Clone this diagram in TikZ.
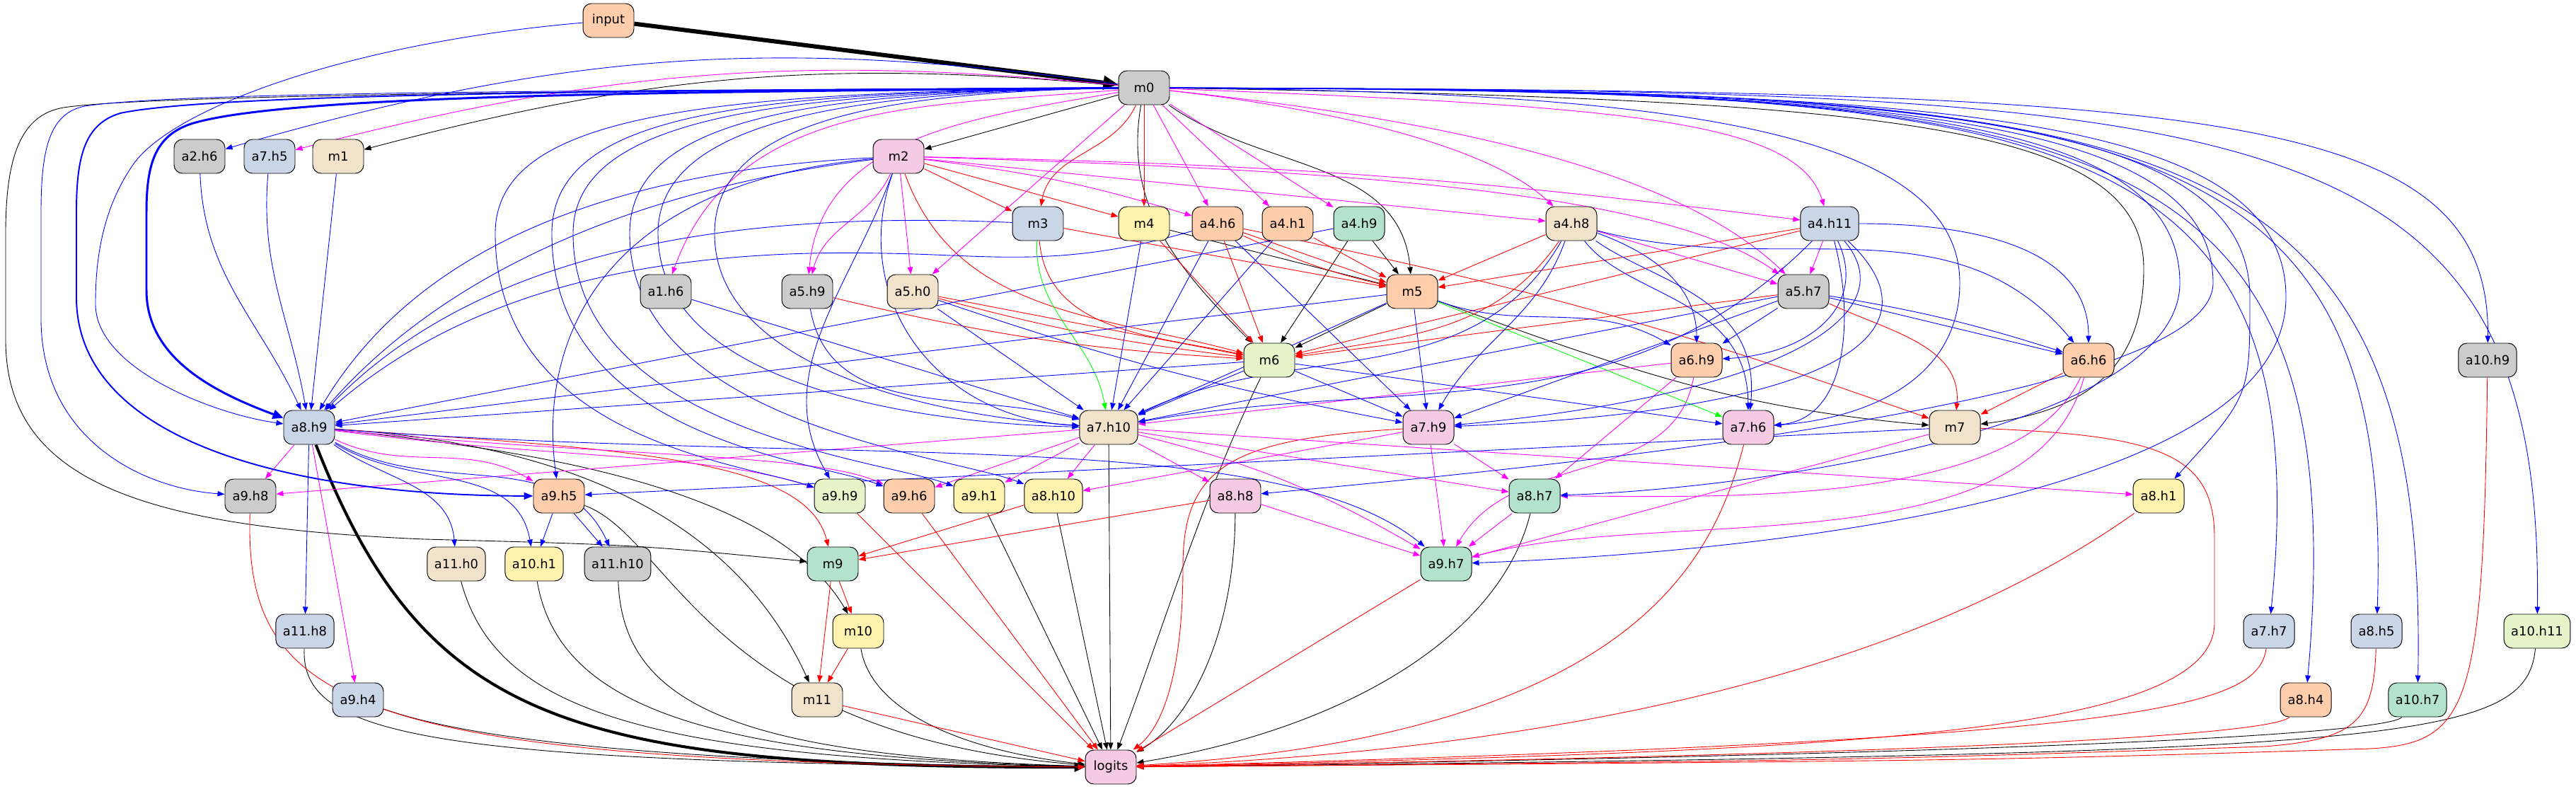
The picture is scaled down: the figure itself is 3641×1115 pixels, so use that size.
\documentclass[tikz,border=0pt]{standalone}
\usepackage{fontspec}
\newfontfamily\gvfont{DejaVu Sans}
\usetikzlibrary{arrows.meta,backgrounds}
\definecolor{pgray}{HTML}{CCCCCC}
\definecolor{pblue}{HTML}{CBD5E8}
\definecolor{pbeige}{HTML}{F1E2CC}
\definecolor{ppink}{HTML}{F4CAE4}
\definecolor{pyel}{HTML}{FFF2AE}
\definecolor{porange}{HTML}{FDCDAC}
\definecolor{pgreen}{HTML}{B3E2CD}
\definecolor{plime}{HTML}{E6F5C9}
\definecolor{eblue}{RGB}{0,0,255}
\definecolor{emag}{RGB}{255,0,255}
\definecolor{ered}{RGB}{255,0,0}
\definecolor{egreen}{RGB}{0,255,0}
\tikzset{
  box/.style={draw, rounded corners=0.24cm, minimum height=0.96cm, minimum width=1.44cm,
              inner xsep=0.2cm, inner ysep=0pt, line width=0.55pt,
              font={\gvfont\fontsize{10.2}{12}\selectfont}},
  ndgray/.style={box, fill=pgray},
  ndblue/.style={box, fill=pblue},
  ndbeige/.style={box, fill=pbeige},
  ndpink/.style={box, fill=ppink},
  ndyel/.style={box, fill=pyel},
  ndorange/.style={box, fill=porange},
  ndgreen/.style={box, fill=pgreen},
  ndlime/.style={box, fill=plime},
  wire/.style={-{Triangle[length=0.2cm,width=0.15cm]}, line width=0.5pt},
  wk/.style={wire, draw=black},
  wb/.style={wire, draw=eblue},
  wm/.style={wire, draw=emag},
  wr/.style={wire, draw=ered},
  wg/.style={wire, draw=egreen},
}
\begin{document}
\begin{tikzpicture}[x=0.02cm, y=-0.02cm]
\useasboundingbox (0,0) rectangle (3641,1115);

% rank 0-2
\node[ndorange] (input) at (860,29) {input};
\node[ndgray] (m0) at (1617,124) {m0};
\node[ndgray] (a2h6) at (282,221) {a2.h6};
\node[ndblue] (a7h5) at (381,221) {a7.h5};
\node[ndbeige] (m1) at (478,221) {m1};
\node[ndpink] (m2) at (1270,221) {m2};
% rank 3-5
\node[ndblue] (m3) at (1467,316) {m3};
\node[ndyel] (m4) at (1617,316) {m4};
\node[ndorange] (a4h6) at (1721,316) {a4.h6};
\node[ndorange] (a4h1) at (1820,316) {a4.h1};
\node[ndgreen] (a4h9) at (1921,316) {a4.h9};
\node[ndbeige] (a4h8) at (2221,316) {a4.h8};
\node[ndblue] (a4h11) at (2586,316) {a4.h11};
\node[ndgray] (a1h6) at (941,412) {a1.h6};
\node[ndgray] (a5h9) at (1141,412) {a5.h9};
\node[ndbeige] (a5h0) at (1290,412) {a5.h0};
\node[ndorange] (m5) at (1996,412) {m5};
\node[ndgray] (a5h7) at (2549,412) {a5.h7};
\node[ndlime] (m6) at (1794,509) {m6};
\node[ndorange] (a6h9) at (2398,509) {a6.h9};
\node[ndorange] (a6h6) at (2952,509) {a6.h6};
\node[ndgray] (a10h9) at (3516,509) {a10.h9};
% rank 6-7
\node[ndblue] (a8h9) at (437,604) {a8.h9};
\node[ndbeige] (a7h10) at (1567,604) {a7.h10};
\node[ndpink] (a7h9) at (2019,604) {a7.h9};
\node[ndpink] (a7h6) at (2471,604) {a7.h6};
\node[ndbeige] (m7) at (2763,604) {m7};
\node[ndgray] (a9h8) at (354,701) {a9.h8};
\node[ndorange] (a9h5) at (790,701) {a9.h5};
\node[ndlime] (a9h9) at (1187,701) {a9.h9};
\node[ndorange] (a9h6) at (1285,701) {a9.h6};
\node[ndyel] (a9h1) at (1384,701) {a9.h1};
\node[ndyel] (a8h10) at (1489,701) {a8.h10};
\node[ndpink] (a8h8) at (1746,701) {a8.h8};
\node[ndgreen] (a8h7) at (2169,701) {a8.h7};
\node[ndyel] (a8h1) at (3051,701) {a8.h1};
% rank 8-11
\node[ndbeige] (a11h0) at (645,797) {a11.h0};
\node[ndyel] (a10h1) at (755,797) {a10.h1};
\node[ndgray] (a11h10) at (873,797) {a11.h10};
\node[ndgreen] (m9) at (1177,797) {m9};
\node[ndgreen] (a9h7) at (2044,797) {a9.h7};
\node[ndblue] (a11h8) at (431,892) {a11.h8};
\node[ndyel] (m10) at (1213,892) {m10};
\node[ndblue] (a7h7) at (3207,892) {a7.h7};
\node[ndblue] (a8h5) at (3359,892) {a8.h5};
\node[ndlime] (a10h11) at (3586,892) {a10.h11};
\node[ndblue] (a9h4) at (506,989) {a9.h4};
\node[ndbeige] (m11) at (1155,989) {m11};
\node[ndorange] (a8h4) at (3259,989) {a8.h4};
\node[ndgreen] (a10h7) at (3417,989) {a10.h7};
\node[ndpink] (logits) at (1570,1084) {logits};

\begin{scope}[on background layer]
% ---- black ----
\draw[wk, line width=3.4pt, -{Triangle[length=0.42cm,width=0.38cm]}] (input) -- (m0);
\draw[wk] (m0) to[bend right=10] (m1);
\foreach \src/\dst in {m0/m2, m4/m5, a4h9/m5, a4h9/m6, m5/m6}
  \draw[wk] (\src) -- (\dst);
\draw[wk] (m0) to[out=-100,in=135] (m6);
\draw[wk] (m0) to[out=-35,in=95] (m5);
\draw[wk] (m5) to[out=-20,in=175] (m7);
\draw[wk] (m0) .. controls (2700,140) and (3030,180) .. (3030,380)
  .. controls (3030,520) and (2950,580) .. (m7);
\draw[wk] (m0) .. controls (800,128) and (200,135) .. (90,152)
  .. controls (30,162) and (8,220) .. (8,330) -- (8,480)
  .. controls (8,680) and (200,745) .. (600,762) .. controls (900,770) .. (m9);
\draw[wk] (a8h9) .. controls (800,640) and (1100,700) .. (m10);
\draw[wk] (a8h9) .. controls (850,630) and (1050,760) .. (m11);
\draw[wk, line width=2.3pt, -{Triangle[length=0.3cm,width=0.26cm]}]
  (a8h9) .. controls (600,1020) and (800,1085) .. (logits);
\draw[wk] (a11h8) .. controls (425,1040) and (600,1078) .. (logits);
\draw[wk] (a9h4) .. controls (650,1040) and (900,1078) .. (logits);
\draw[wk] (a11h0) .. controls (700,1000) and (900,1072) .. (logits);
\draw[wk] (a10h1) .. controls (790,1000) and (1000,1070) .. (logits);
\draw[wk] (a11h10) .. controls (880,1000) and (1050,1068) .. (logits);
\draw[wk] (a9h5) .. controls (950,760) and (1000,1040) .. (logits);
\draw[wk] (m10) .. controls (1230,1000) and (1350,1060) .. (logits);
\foreach \src in {a9h1, a8h10, a7h10}
  \draw[wk] (\src) -- (logits);
\draw[wk] (m6) .. controls (1700,700) and (1640,900) .. (logits);
\draw[wk] (a8h8) .. controls (1745,900) and (1680,1020) .. (logits);
\draw[wk] (a8h7) .. controls (2120,900) and (1900,1030) .. (logits);
\draw[wk] (a10h7) .. controls (3380,1030) and (3100,1062) .. (logits);
\draw[wk] (a10h11) .. controls (3570,1050) and (3400,1065) .. (logits);

% ---- red ----
\foreach \src/\dst in {m0/m4, m2/m3, m2/m4, m3/m5, m4/m6, a4h6/m5, a4h6/m6, a4h1/m5,
    a4h8/m5, a4h11/m5, a4h11/m6, a5h7/m6, a6h6/m7, a5h0/m6, a8h10/m9, a8h8/m9,
    m9/m10, m9/m11, m10/m11, m11/logits, a9h9/logits, a9h6/logits, a9h7/logits}
  \draw[wr] (\src) -- (\dst);
\draw[wr] (m0) to[out=-115,in=80] (m3);
\draw[wr] (m2) to[out=-70,in=165] (m6);
\draw[wr] (m3) to[out=-85,in=168] (m6);
\draw[wr] (a4h6) to[bend right=6] (m5);
\draw[wr] (a4h6) to[bend left=4] (m7);
\draw[wr] (a4h8) to[out=-125,in=10] (m6);
\draw[wr] (a5h7) to[out=-25,in=85] (m7);
\draw[wr] (a5h0) to[bend right=4] (m6);
\draw[wr] (a5h9) to[bend right=5] (m6);
\draw[wr] (a8h9) .. controls (900,635) and (1140,650) .. (m9);
\draw[wr] (a9h8) .. controls (345,1000) and (500,1078) .. (logits);
\draw[wr] (a7h9) .. controls (1740,620) and (1672,660) .. (1672,800)
  .. controls (1672,960) and (1640,1030) .. (logits);
\draw[wr] (a7h6) .. controls (2420,800) and (2300,1040) .. (logits);
\draw[wr] (m7) .. controls (3050,615) and (3130,640) .. (3130,760) -- (3130,880)
  .. controls (3130,1040) and (2600,1062) .. (logits);
\draw[wr] (a8h1) .. controls (2700,950) and (2200,1060) .. (logits);
\draw[wr] (a7h7) .. controls (3190,1000) and (3050,1045) .. (logits);
\draw[wr] (a8h4) .. controls (3220,1030) and (3000,1062) .. (logits);
\draw[wr] (a8h5) .. controls (3355,1020) and (3330,1045) .. (3200,1055)
  .. controls (2600,1075) .. (logits);
\draw[wr] (a10h9) .. controls (3510,1000) and (3490,1050) .. (3350,1058)
  .. controls (2800,1075) .. (logits);

% ---- magenta ----
\foreach \src/\dst in {m0/a4h6, m0/a4h1, m0/a4h9, m2/a4h8, m0/a5h0, m2/a5h0, a4h8/a5h7,
    a4h11/a5h7, a8h9/a9h8, a8h9/a9h4, a7h10/a9h8, a7h10/a9h6, a7h10/a9h1, a7h10/a8h10,
    a7h10/a8h8, a7h10/a8h7, a7h10/a8h1, a7h9/a8h10, a7h9/a8h7, a7h9/a9h7, a6h9/a7h10,
    a6h9/a8h7, m7/a9h7, a8h8/a9h7, a8h7/a9h7}
  \draw[wm] (\src) -- (\dst);
\draw[wm] (m0) to[bend right=10] (a7h5);
\draw[wm] (m0) to[out=185,in=70] (a1h6);
\draw[wm] (m0) to[out=190,in=85] (a5h9);
\draw[wm] (m2) to[out=-115,in=75] (a5h9);
\draw[wm] (m2) to[bend left=5] (a4h6);
\draw[wm] (m2) to[bend left=3] (a4h11);
\draw[wm] (m0) .. controls (1850,150) and (2100,200) .. (a4h8);
\draw[wm] (m0) .. controls (2300,150) and (2540,170) .. (a4h11);
\draw[wm] (m0) .. controls (1950,160) and (2350,220) .. (a5h7);
\draw[wm] (m2) .. controls (1900,240) and (2350,270) .. (a5h7);
\draw[wm] (a8h9) to[out=-25,in=150] (a9h5);
\draw[wm] (a8h9) .. controls (800,650) and (1000,640) .. (a9h9);
\draw[wm] (a8h9) .. controls (850,645) and (1150,640) .. (a9h6);
\draw[wm] (a7h10) to[bend left=8] (a9h7);
\draw[wm] (a6h9) to[out=-100,in=60] (a9h7);
\draw[wm] (a6h6) to[out=-115,in=0,looseness=0.7] (a8h7);
\draw[wm] (a6h6) to[out=-105,in=15,looseness=0.8] (a9h7);

% ---- green ----
\draw[wg] (m3) to[out=-93,in=100] (a7h10);
\draw[wg] (m5) -- (a7h6);

% ---- blue ----
\foreach \src/\dst in {m1/a8h9, a4h9/a8h9, m5/a8h9, m6/a8h9, a1h6/a7h10, a5h0/a7h10,
    m4/a7h10, a4h6/a7h10, a4h1/a7h10, m6/a7h10, m5/a7h10, a5h7/a7h10, a4h6/a7h9,
    m5/a7h9, m6/a7h9, a5h7/a7h9, m6/a7h6, a5h7/a6h9, a5h7/a6h6, a8h9/a11h8,
    a9h5/a10h1, a9h5/a11h10, m7/a9h5}
  \draw[wb] (\src) -- (\dst);
\draw[wb] (a5h0) to[bend right=4] (a7h9);
\draw[wb] (input) .. controls (500,60) and (250,150) .. (190,230)
  .. controls (140,300) and (135,380) .. (135,430)
  .. controls (135,520) and (300,585) .. (a8h9);
\draw[wb, line width=1.7pt, -{Triangle[length=0.3cm,width=0.26cm]}]
  (m0) .. controls (900,130) and (400,135) .. (270,175)
  .. controls (220,192) and (207,230) .. (207,300) -- (207,410)
  .. controls (207,500) and (290,550) .. (a8h9);
\draw[wb, line width=1.1pt, -{Triangle[length=0.26cm,width=0.2cm]}]
  (m0) .. controls (900,128) and (300,132) .. (170,160)
  .. controls (120,175) and (108,220) .. (108,300) -- (108,420)
  .. controls (108,620) and (400,700) .. (a9h5);
\draw[wb] (m0) .. controls (800,128) and (250,130) .. (120,150)
  .. controls (70,160) and (58,210) .. (58,300) -- (58,450)
  .. controls (58,620) and (200,690) .. (a9h8);
\draw[wb] (m0) to[bend right=12] (a2h6);
\draw[wb] (a2h6) to[out=-88,in=115] (a8h9);
\draw[wb] (a7h5) to[out=-95,in=100] (a8h9);
\draw[wb] (m2) .. controls (900,240) and (600,330) .. (a8h9);
\draw[wb] (m2) .. controls (950,260) and (650,360) .. (a8h9);
\draw[wb] (m3) .. controls (1100,300) and (700,330) .. (a8h9);
\draw[wb] (a4h6) .. controls (1500,380) and (1400,360) .. (1250,358)
  .. controls (900,350) and (650,420) .. (a8h9);
\draw[wb] (m2) .. controls (850,260) and (760,480) .. (a9h5);
\draw[wb] (m2) to[out=-110,in=120] (a9h9);
\draw[wb] (m2) .. controls (1200,420) and (1320,590) .. (a7h10);
\draw[wb] (a5h9) to[out=-80,in=165] (a7h10);
\draw[wb] (a4h8) to[out=-120,in=25] (a7h10);
\draw[wb] (a4h11) to[out=-135,in=10] (a7h10);
\draw[wb] (a4h8) to[out=-110,in=60] (a7h9);
\draw[wb] (a4h11) .. controls (2700,450) and (2500,560) .. (a7h9);
\draw[wb] (a4h11) .. controls (2750,470) and (2600,580) .. (a7h9);
\draw[wb] (a4h8) .. controls (2300,420) and (2470,420) .. (a7h6);
\draw[wb] (a4h8) .. controls (2340,400) and (2490,420) .. (a7h6);
\draw[wb] (a4h11) to[out=-75,in=5] (a7h6);
\draw[wb] (a4h8) to[out=-20,in=90] (a6h9);
\draw[wb] (m5) to[out=-20,in=150] (a6h9);
\draw[wb] (a4h11) .. controls (2640,430) and (2560,500) .. (a6h9);
\draw[wb] (a4h8) to[out=-15,in=130] (a6h6);
\draw[wb] (a4h11) to[out=0,in=90] (a6h6);
\draw[wb] (a5h7) to[bend left=4] (a6h6);
\draw[wb] (a8h9) to[out=-35,in=95] (a11h0);
\draw[wb] (a8h9) to[out=-32,in=100] (a10h1);
\draw[wb] (a8h9) to[out=-30,in=115] (a11h10);
\draw[wb] (a8h9) .. controls (1200,660) and (1800,600) .. (a9h7);
% m0 fanning out to the left
\draw[wb] (m0) .. controls (1000,130) and (700,160) .. (700,330)
  .. controls (700,620) and (1050,655) .. (a9h9);
\draw[wb] (m0) .. controls (1050,130) and (780,160) .. (780,330)
  .. controls (780,620) and (1150,650) .. (a9h6);
\draw[wb] (m0) .. controls (1100,130) and (810,165) .. (810,330)
  .. controls (810,610) and (1250,650) .. (a9h1);
\draw[wb] (m0) .. controls (1150,130) and (890,165) .. (890,330)
  .. controls (890,600) and (1350,645) .. (a8h10);
\draw[wb] (m0) .. controls (1200,130) and (930,170) .. (930,330)
  .. controls (930,560) and (1350,600) .. (a7h10);
\draw[wb] (m0) .. controls (1250,130) and (1010,170) .. (1010,330)
  .. controls (1010,530) and (1350,590) .. (a7h10);
% m0 fanning out to the right
\foreach \dst/\xd in {a7h7/3282, a8h4/3334, a8h5/3385, a10h7/3433, a10h9/3520, a10h11/3595}
  \draw[wb] (m0) .. controls (\xd-400,128) and (\xd,150) .. (\dst);
\draw[wb] (m0) .. controls (2300,130) and (2770,170) .. (2770,400)
  .. controls (2770,530) and (2650,590) .. (a7h6);
\draw[wb] (m0) .. controls (2600,128) and (3081,150) .. (3081,400)
  .. controls (3081,600) and (2500,690) .. (a8h7);
\draw[wb] (m0) .. controls (2600,128) and (3128,150) .. (3128,400)
  .. controls (3128,560) and (2300,650) .. (a8h8);
\draw[wb] (m0) .. controls (2650,128) and (3180,150) .. (3180,420)
  .. controls (3180,560) .. (a8h1);
\draw[wb] (m0) .. controls (2700,128) and (3231,150) .. (3231,420)
  .. controls (3231,700) and (2500,780) .. (a9h7);
\end{scope}
\end{tikzpicture}
\end{document}
